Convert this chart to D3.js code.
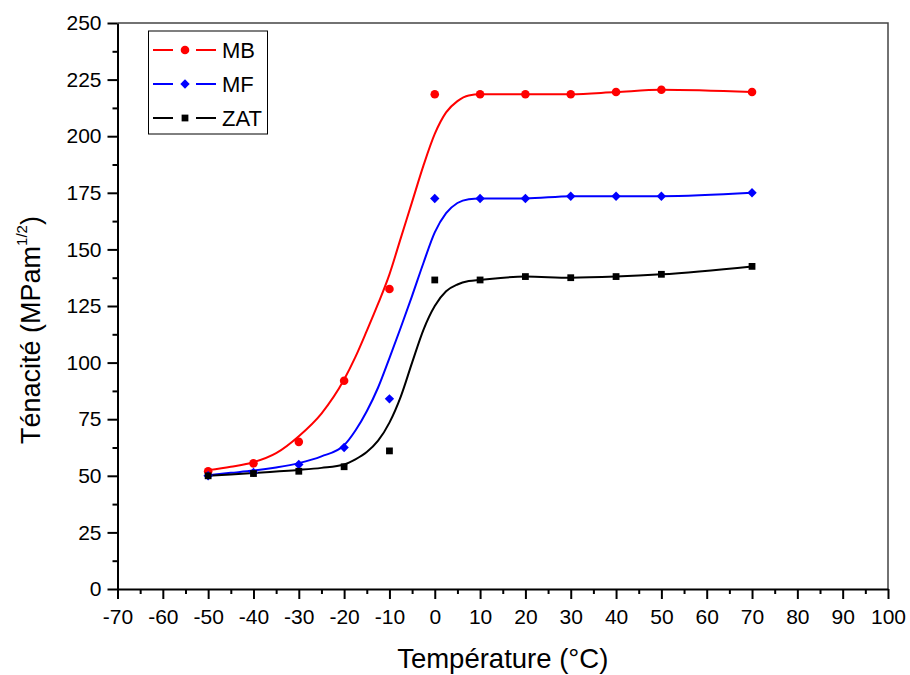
<!DOCTYPE html>
<html>
<head>
<meta charset="utf-8">
<script src="https://cdn.jsdelivr.net/npm/d3@7"></script>
<style>
  body { margin: 0; background: white; }
  text { font-family: "Liberation Sans", Arial, sans-serif; }
</style>
</head>
<body>
<script>
// measured points
var temps = [-50, -40, -30, -20, -10, 0, 10, 20, 30, 40, 50, 70];
var mb  = [52, 55.5, 65, 92, 132.5, 218.5, 218.5, 218.5, 218.5, 219.5, 220.5, 219.5];
var mf  = [50, 51.5, 55, 62.5, 84, 172.5, 172.5, 172.5, 173.5, 173.5, 173.5, 175];
var zat = [50, 51, 52, 54, 61, 136.5, 136.5, 138, 137.5, 138, 139, 142.5];

// fitted curves (sigmoid part, then through the points)
var fitTemps = [-50, -45, -40, -35, -30, -25, -20, -17.5, -15, -12.5, -10, -7.5, -5, -2.5, 0, 2.5, 5, 7.5, 10, 20, 30, 40, 50, 70];
var fitMB  = [52.5, 54, 56, 60, 67.5, 77.5, 92.5, 102.5, 114, 126, 139, 155, 171, 187, 201, 210.5, 215.5, 218, 218.5, 218.5, 218.5, 219.5, 220.5, 219.5];
var fitMF  = [50.3, 51.3, 52.3, 53.7, 55.6, 58.6, 63.5, 70, 78.5, 89, 102, 115.5, 129.5, 144, 157.5, 166, 170.5, 172.2, 172.5, 172.5, 173.5, 173.5, 173.5, 175];
var fitZAT = [50, 50.6, 51.2, 51.9, 52.6, 53.5, 55, 57.3, 60.5, 65.5, 73.5, 85, 100, 114.5, 125, 131.5, 134.5, 136, 136.5, 138, 137.5, 138, 139, 142.5];

var xTicks = d3.range(-70, 101, 10);
var yTicks = d3.range(0, 251, 25);

var width = 910, height = 675;
var plot = { left: 117.5, right: 888, top: 23, bottom: 589 };

var svg = d3.select("body").append("svg")
    .attr("width", width)
    .attr("height", height);

var x = d3.scaleLinear().domain([-70, 100]).range([plot.left, plot.right]);
var y = d3.scaleLinear().domain([0, 250]).range([plot.bottom, plot.top]);

// frame (top + right)
svg.append("path")
    .attr("d", "M" + plot.left + "," + plot.top + "H" + plot.right + "V" + plot.bottom)
    .attr("fill", "none")
    .attr("stroke", "#444")
    .attr("stroke-width", 1.5);

// minor ticks
svg.append("g")
    .attr("transform", "translate(0," + plot.bottom + ")")
    .call(d3.axisBottom(x).tickValues(d3.range(-65, 100, 10)).tickSize(5).tickSizeOuter(0).tickFormat(""))
    .call(function (g) { g.select(".domain").remove(); })
    .selectAll("line").attr("stroke-width", 2);
svg.append("g")
    .attr("transform", "translate(" + plot.left + ",0)")
    .call(d3.axisLeft(y).tickValues(d3.range(12.5, 250, 25)).tickSize(5).tickSizeOuter(0).tickFormat(""))
    .call(function (g) { g.select(".domain").remove(); })
    .selectAll("line").attr("stroke-width", 2);

// major axes (plain hyphen for negatives, like the original)
var plain = function (d) { return String(d); };
var xAxis = svg.append("g")
    .attr("transform", "translate(0," + plot.bottom + ")")
    .call(d3.axisBottom(x).tickValues(xTicks).tickSize(10).tickSizeOuter(0).tickPadding(9).tickFormat(plain));
var yAxis = svg.append("g")
    .attr("transform", "translate(" + plot.left + ",0)")
    .call(d3.axisLeft(y).tickValues(yTicks).tickSize(10).tickSizeOuter(0).tickPadding(6).tickFormat(plain));

[xAxis, yAxis].forEach(function (g) {
    g.select(".domain").attr("stroke-width", 2);
    g.selectAll("line").attr("stroke-width", 2);
    g.selectAll("text").attr("font-size", 21).attr("fill", "#000")
        .attr("font-family", "'Liberation Sans', Arial, sans-serif");
});
xAxis.selectAll("text").attr("dy", "0.75em");

// axis titles
svg.append("text")
    .attr("x", (plot.left + plot.right) / 2)
    .attr("y", 668)
    .attr("text-anchor", "middle")
    .attr("font-size", 27.5)
    .text("Température (°C)");

var yTitle = svg.append("text")
    .attr("transform", "translate(40,330) rotate(-90)")
    .attr("text-anchor", "middle")
    .attr("font-size", 27);
yTitle.append("tspan").text("Ténacité (MPam");
yTitle.append("tspan").attr("font-size", 15).attr("dy", -13).text("1/2");
yTitle.append("tspan").attr("dy", 13).text(")");

// series
var series = [
    { name: "MB", color: "#ff0000", values: mb, fit: fitMB, symbol: d3.symbolCircle, size: 58, rot: 0 },
    { name: "MF", color: "#0000ff", values: mf, fit: fitMF, symbol: d3.symbolSquare, size: 44, rot: 45 },
    { name: "ZAT", color: "#000000", values: zat, fit: fitZAT, symbol: d3.symbolSquare, size: 46, rot: 0 }
];

var line = d3.line()
    .x(function (d) { return x(d[0]); })
    .y(function (d) { return y(d[1]); })
    .curve(d3.curveMonotoneX);

series.forEach(function (s) {
    svg.append("path")
        .datum(fitTemps.map(function (t, i) { return [t, s.fit[i]]; }))
        .attr("d", line)
        .attr("fill", "none")
        .attr("stroke", s.color)
        .attr("stroke-width", 2);
});

series.forEach(function (s) {
    svg.append("g").selectAll("path")
        .data(temps.map(function (t, i) { return [t, s.values[i]]; }))
        .enter().append("path")
        .attr("d", d3.symbol().type(s.symbol).size(s.size))
        .attr("transform", function (d) {
            return "translate(" + x(d[0]) + "," + y(d[1]) + ") rotate(" + s.rot + ")";
        })
        .attr("fill", s.color);
});

// legend
var legend = svg.append("g");
legend.append("rect")
    .attr("x", 148.5).attr("y", 31)
    .attr("width", 119).attr("height", 103)
    .attr("fill", "white")
    .attr("stroke", "#000")
    .attr("stroke-width", 1);

series.forEach(function (s, i) {
    var ly = 50 + i * 34;
    legend.append("line").attr("x1", 153).attr("x2", 173).attr("y1", ly).attr("y2", ly)
        .attr("stroke", s.color).attr("stroke-width", 2);
    legend.append("line").attr("x1", 196).attr("x2", 216).attr("y1", ly).attr("y2", ly)
        .attr("stroke", s.color).attr("stroke-width", 2);
    legend.append("path")
        .attr("d", d3.symbol().type(s.symbol).size(s.size))
        .attr("transform", "translate(185," + ly + ") rotate(" + s.rot + ")")
        .attr("fill", s.color);
    legend.append("text")
        .attr("x", 222).attr("y", ly + 8)
        .attr("font-size", 22)
        .text(s.name);
});
</script>
</body>
</html>
